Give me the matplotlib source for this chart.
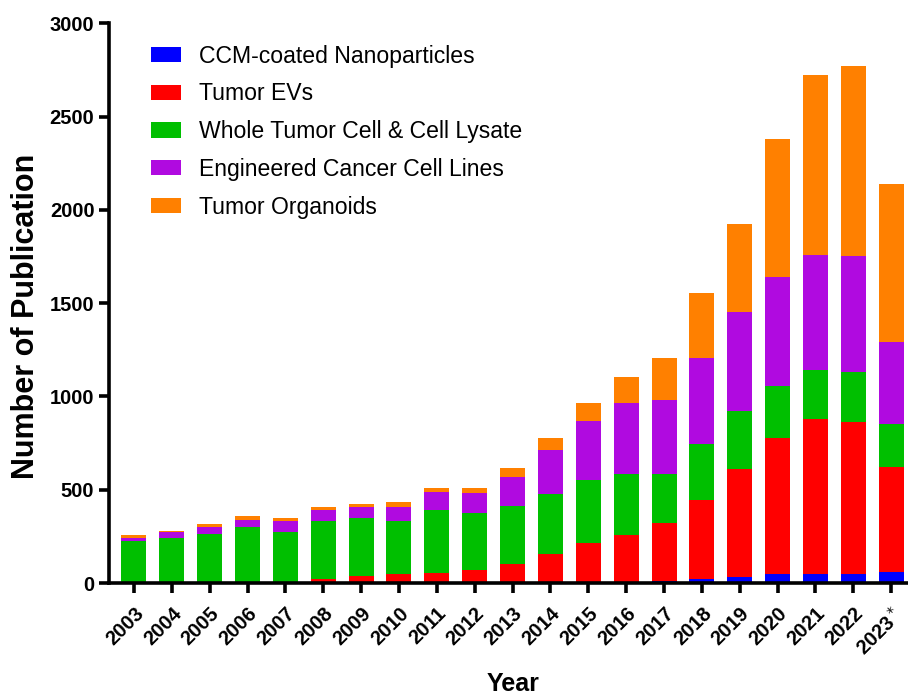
import numpy as np
import matplotlib
matplotlib.use('Agg')
import matplotlib.pyplot as plt

plt.rcParams['font.family'] = ['Liberation Sans', 'DejaVu Sans']

# Publications per year, by category
years = ['2003', '2004', '2005', '2006', '2007', '2008', '2009', '2010', '2011', '2012',
         '2013', '2014', '2015', '2016', '2017', '2018', '2019', '2020', '2021', '2022',
         '2023$^*$']
ccm_np = [0, 0, 0, 0, 0, 0, 0, 0, 0, 0, 0, 0, 0, 0, 13, 24, 30, 47, 47, 51, 60]
tumor_evs = [0, 0, 0, 0, 0, 19, 40, 49, 55, 72, 103, 155, 217, 260, 308, 422, 581, 728,
             830, 810, 563]
whole_cell = [226, 244, 262, 298, 276, 316, 310, 286, 334, 305, 309, 323, 333, 322, 265,
              301, 309, 283, 265, 270, 231]
engineered = [16, 27, 41, 41, 54, 54, 55, 75, 97, 106, 159, 236, 318, 381, 393, 459, 531,
              583, 615, 624, 440]
organoids = [16, 9, 15, 18, 18, 20, 16, 22, 21, 28, 47, 65, 99, 143, 229, 351, 471, 740,
             967, 1016, 844]

series = [
    ('CCM-coated Nanoparticles', ccm_np, '#0000ff'),
    ('Tumor EVs', tumor_evs, '#ff0000'),
    ('Whole Tumor Cell & Cell Lysate', whole_cell, '#00bf00'),
    ('Engineered Cancer Cell Lines', engineered, '#b00ae0'),
    ('Tumor Organoids', organoids, '#ff8000'),
]

fig = plt.figure(figsize=(9.08, 6.97), dpi=100)
ax = fig.add_axes([0.12, 0.1635, 0.879, 0.803])

x = np.arange(len(years))
bottom = np.zeros(len(years))
for label, vals, color in series:
    ax.bar(x, vals, width=0.66, bottom=bottom, color=color, label=label, zorder=2)
    bottom += np.array(vals)

ax.set_xlim(-0.66, 20.42)
ax.set_ylim(0, 3000)
ax.set_yticks(range(0, 3001, 500))
ax.set_xticks(x)
ax.set_xticklabels(years, rotation=45, ha='right', rotation_mode='anchor',
                   fontsize=14.5, fontweight='bold')
for t in ax.get_yticklabels():
    t.set_fontsize(14.5)
    t.set_fontweight('bold')

for s in ['top', 'right']:
    ax.spines[s].set_visible(False)
for s in ['left', 'bottom']:
    ax.spines[s].set_linewidth(2.6)
ax.tick_params(axis='both', width=2.6, length=7, direction='out')
ax.tick_params(axis='x', pad=8)

ax.set_ylabel('Number of Publication', fontsize=22, fontweight='bold')
ax.yaxis.set_label_coords(-0.085, 0.477)
ax.set_xlabel('Year', fontsize=18, fontweight='bold')
ax.xaxis.set_label_coords(0.506, -0.159)

ax.legend(loc='upper left', bbox_to_anchor=(0.053, 0.962), frameon=False, fontsize=16.6,
          handlelength=1.3, handleheight=0.65, handletextpad=0.75, labelspacing=0.64,
          borderaxespad=0, borderpad=0)

fig.savefig('out.png', dpi=100)
